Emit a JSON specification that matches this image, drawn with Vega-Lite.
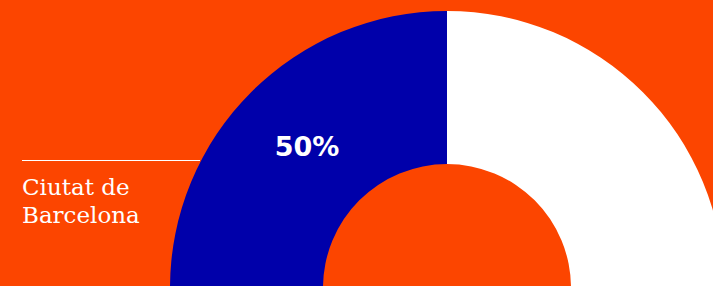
{
  "$schema": "https://vega.github.io/schema/vega-lite/v6.json",
  "width": 713,
  "height": 286,
  "autosize": {"type": "none"},
  "padding": 0,
  "background": "#FC4500",
  "config": {"view": {"stroke": null}},
  "data": {"values": [
    {"cat": "Barcelona", "value": 50, "label": "50%"},
    {"cat": "Resta", "value": 50, "label": ""}
  ]},
  "layer": [
    {
      "mark": {"type": "arc", "outerRadius": 277, "innerRadius": 124},
      "encoding": {
        "x": {"datum": 447, "type": "quantitative", "scale": {"domain": [0, 713], "nice": false, "zero": false}, "axis": null},
        "y": {"datum": 288, "type": "quantitative", "scale": {"domain": [0, 286], "nice": false, "zero": false, "reverse": true}, "axis": null},
        "theta": {"field": "value", "type": "quantitative", "stack": true, "scale": {"range": [-1.5707963, 1.5707963]}},
        "order": {"field": "cat", "sort": "ascending"},
        "color": {"field": "cat", "type": "nominal", "scale": {"domain": ["Barcelona", "Resta"], "range": ["#0000AA", "#FFFFFF"]}, "legend": null}
      }
    },
    {
      "mark": {"type": "text", "radius": 198, "font": "DejaVu Sans", "fontWeight": "bold", "fontSize": 27, "fill": "#FFFFFF", "align": "center", "baseline": "middle"},
      "encoding": {
        "x": {"datum": 447, "type": "quantitative"},
        "y": {"datum": 288, "type": "quantitative"},
        "theta": {"field": "value", "type": "quantitative", "stack": true},
        "order": {"field": "cat", "sort": "ascending"},
        "text": {"field": "label"}
      }
    },
    {
      "transform": [{"filter": "datum.cat == 'Barcelona'"}],
      "mark": {"type": "rule", "stroke": "#FFFFFF", "strokeWidth": 1},
      "encoding": {
        "x": {"datum": 22, "type": "quantitative"},
        "x2": {"datum": 200},
        "y": {"datum": 160.5, "type": "quantitative"}
      }
    },
    {
      "transform": [{"filter": "datum.cat == 'Barcelona'"}],
      "mark": {"type": "text", "font": "DejaVu Serif", "fontSize": 23, "fill": "#FFFFFF", "align": "left", "baseline": "alphabetic", "lineHeight": 28},
      "encoding": {
        "x": {"datum": 22, "type": "quantitative"},
        "y": {"datum": 195, "type": "quantitative"},
        "text": {"value": ["Ciutat de", "Barcelona"]}
      }
    }
  ]
}
